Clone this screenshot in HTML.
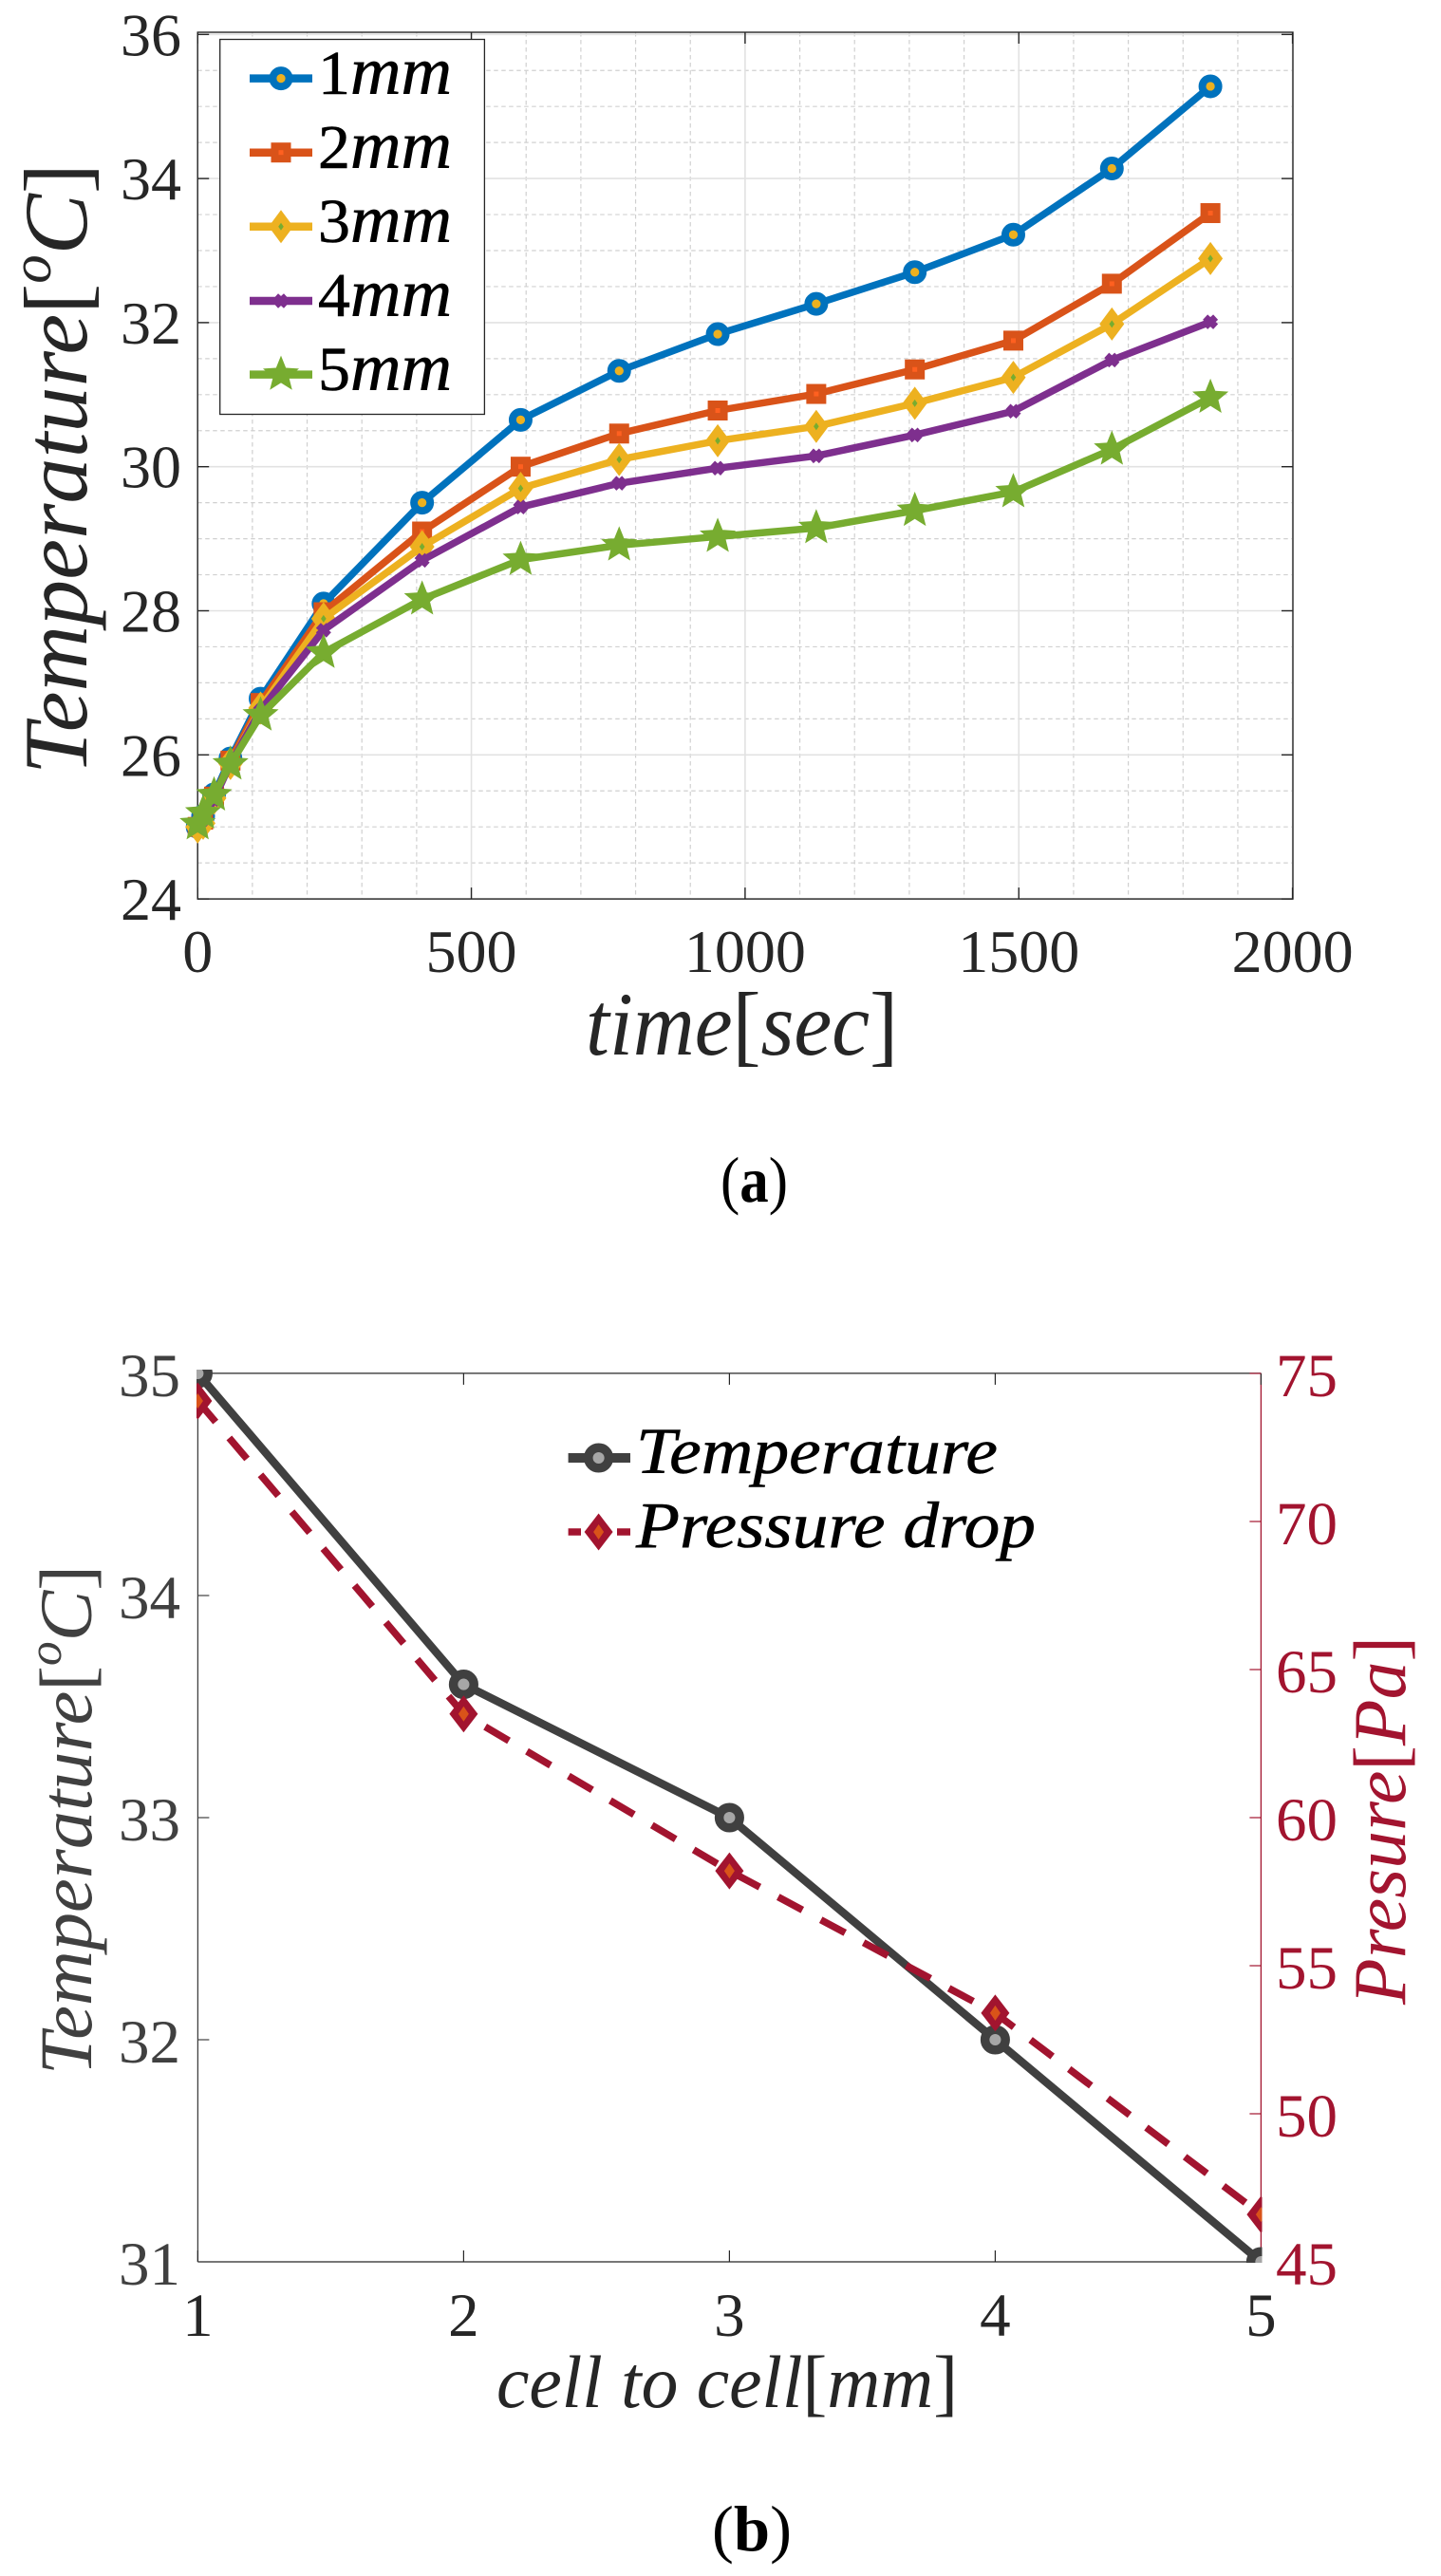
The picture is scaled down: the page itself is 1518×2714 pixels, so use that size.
<!DOCTYPE html>
<html lang="en">
<head>
<meta charset="utf-8">
<title>Temperature and pressure charts</title>
<style>
html,body{margin:0;padding:0;background:#fff;width:1518px;height:2714px;overflow:hidden}
svg{display:block}
text{font-family:"Liberation Serif",serif}
.it{font-style:italic}
</style>
</head>
<body>
<svg id="fig" width="1518" height="2714" viewBox="0 0 1518 2714" xmlns="http://www.w3.org/2000/svg">
  <rect x="0" y="0" width="1518" height="2714" fill="#fff"/>
  <defs>
    <clipPath id="clipB"><rect x="207" y="1443" width="1122.5" height="941"/></clipPath>
  </defs>
  <g id="chartA"></g>
  <g id="chartB"></g>

  <text x="617" y="1111" font-size="95" fill="#262626" textLength="329" lengthAdjust="spacingAndGlyphs"><tspan class="it">time</tspan>[<tspan class="it">sec</tspan>]</text>
  <text transform="translate(91 816) rotate(-90)" font-size="95" fill="#262626" textLength="644" lengthAdjust="spacingAndGlyphs"><tspan class="it">Temperature</tspan>[<tspan class="it" font-size="60" dy="-38">o</tspan><tspan class="it" dy="38">C</tspan>]</text>
  <text x="759" y="1266" font-size="68" fill="#000" textLength="71" lengthAdjust="spacingAndGlyphs">(<tspan font-weight="bold">a</tspan>)</text>

  <text x="523" y="2536" font-size="78" fill="#262626" textLength="486" lengthAdjust="spacingAndGlyphs"><tspan class="it">cell to cell</tspan>[<tspan class="it">mm</tspan>]</text>
  <text transform="translate(96 2186) rotate(-90)" font-size="78" fill="#404040" textLength="537" lengthAdjust="spacingAndGlyphs"><tspan class="it">Temperature</tspan>[<tspan class="it" font-size="50" dy="-32">o</tspan><tspan class="it" dy="32">C</tspan>]</text>
  <text transform="translate(1480 2112) rotate(-90)" font-size="78" fill="#A2142F" textLength="388" lengthAdjust="spacingAndGlyphs"><tspan class="it">Presure</tspan>[<tspan class="it">Pa</tspan>]</text>
  <text x="750" y="2687" font-size="68" fill="#000" textLength="84" lengthAdjust="spacingAndGlyphs">(<tspan font-weight="bold">b</tspan>)</text>
</svg>
<script>
/* ---- chart (a) data ---- */
const timesA = [0,10,30,60,115,230,410,590,770,950,1130,1310,1490,1670,1850];
const temp1mm = [25.0,25.15,25.45,25.95,26.78,28.10,29.50,30.65,31.33,31.84,32.26,32.70,33.22,34.14,35.28];
const temp2mm = [25.0,25.10,25.42,25.92,26.72,27.98,29.10,30.00,30.46,30.78,31.01,31.35,31.75,32.54,33.52];
const temp3mm = [25.0,25.05,25.40,25.88,26.65,27.89,28.89,29.70,30.10,30.36,30.56,30.88,31.24,31.98,32.89];
const temp4mm = [25.05,25.10,25.38,25.88,26.62,27.73,28.70,29.44,29.77,29.98,30.15,30.44,30.77,31.48,32.01];
const temp5mm = [25.04,25.19,25.44,25.87,26.55,27.42,28.16,28.71,28.91,29.03,29.15,29.39,29.65,30.24,30.96];
const xTicksA = [0,500,1000,1500,2000];
const yTicksA = [24,26,28,30,32,34,36];
const xMinorA = [100,200,300,400,600,700,800,900,1100,1200,1300,1400,1600,1700,1800,1900];
const yMinorA = [24.5,25,25.5,26.5,27,27.5,28.5,29,29.5,30.5,31,31.5,32.5,33,33.5,34.5,35,35.5];
const legendDigitsA = ["1","2","3","4","5"];

/* ---- chart (b) data ---- */
const spacingB = [1,2,3,4,5];
const temperatureB = [35,33.6,33,32,31];
const pressureB = [74.07,63.5,58.2,53.4,46.6];
const xTicksB = [1,2,3,4,5];
const yTicksLeftB = [31,32,33,34,35];
const yTicksRightB = [45,50,55,60,65,70,75];

const NS = 'http://www.w3.org/2000/svg';
function mk(parent, tag, attrs, txt){
  const el = document.createElementNS(NS, tag);
  for (const k in attrs) el.setAttribute(k, attrs[k]);
  if (txt !== undefined) el.textContent = txt;
  parent.appendChild(el);
  return el;
}
/* axis functions */
const xA = v => 208.2 + v * 0.5767;
const yA = v => 947.1 - (v - 24) * 75.9;
const xB = v => 208.4 + (v - 1) * 280;
const yBL = v => 2383 - (v - 31) * 234;
const yBR = v => 2383 - (v - 45) * 31.2;

function poly(pts){ return pts.map(p => p[0].toFixed(2) + ',' + p[1].toFixed(2)).join(' '); }
function diamondPts(cx, cy, w, h){ return poly([[cx, cy-h],[cx+w, cy],[cx, cy+h],[cx-w, cy]]); }
function starPts(cx, cy, R, r){
  const pts = [];
  for (let i = 0; i < 10; i++){
    const a = -Math.PI/2 + i*Math.PI/5;
    const q = i % 2 ? r : R;
    pts.push([cx + q*Math.cos(a), cy + q*Math.sin(a)]);
  }
  return poly(pts);
}
function marker(g, kind, cx, cy){
  if (kind === 'circle'){
    mk(g,'circle',{cx:cx,cy:cy,r:8.5,fill:'#EDB120',stroke:'#0072BD','stroke-width':8});
    mk(g,'circle',{cx:cx,cy:cy,r:4.6,fill:'#EDB120'});
  } else if (kind === 'square'){
    mk(g,'rect',{x:cx-10.5,y:cy-10.5,width:21,height:21,fill:'#D95319'});
    mk(g,'rect',{x:cx-2.5,y:cy-2.5,width:5,height:5,fill:'#FF6020'});
  } else if (kind === 'diamond'){
    mk(g,'polygon',{points:diamondPts(cx,cy,13,17.5),fill:'#EDB120'});
    mk(g,'polygon',{points:diamondPts(cx,cy,2.8,4),fill:'#77AC30'});
  } else if (kind === 'x'){
    mk(g,'path',{d:`M${cx-5.5} ${cy-5}L${cx+5.5} ${cy+5}M${cx+5.5} ${cy-5}L${cx-5.5} ${cy+5}`,stroke:'#7E2F8E','stroke-width':7.5,fill:'none'});
  } else if (kind === 'star'){
    mk(g,'polygon',{points:starPts(cx,cy,20,8.8),fill:'#77AC30'});
  } else if (kind === 'tempCircle'){
    mk(g,'circle',{cx:cx,cy:cy,r:10.8,fill:'#A6A6A6',stroke:'#404040','stroke-width':9.5});
  } else if (kind === 'pressDiamond'){
    mk(g,'polygon',{points:diamondPts(cx,cy,15,19.5),fill:'#A2142F'});
    mk(g,'polygon',{points:diamondPts(cx,cy,5.5,8),fill:'#D95319'});
  }
}

/* ===== chart (a) ===== */
const A = document.getElementById('chartA');
const L = 208.2, R = 1362, T = 34, B = 947.1;

const gridA = mk(A,'g',{});


xMinorA.forEach(v => {
  const l = mk(gridA,'line',{x1:xA(v),x2:xA(v),y1:T,y2:B,stroke:'#d0d0d0','stroke-width':1.2,'stroke-dasharray':'4.5 3.5'});
  
  
});
yMinorA.forEach(v => {
  const l = mk(gridA,'line',{x1:L,x2:R,y1:yA(v),y2:yA(v),stroke:'#d0d0d0','stroke-width':1.2,'stroke-dasharray':'4.5 3.5'});
  
  
});
xTicksA.forEach(v => {
  const l = mk(gridA,'line',{x1:xA(v),x2:xA(v),y1:T,y2:B,stroke:'#e2e2e2','stroke-width':1.6});
  
  
});
yTicksA.forEach(v => {
  const l = mk(gridA,'line',{x1:L,x2:R,y1:yA(v),y2:yA(v),stroke:'#e2e2e2','stroke-width':1.6});
  
  
});

const axesA = mk(A,'g',{});


const boxA = mk(axesA,'rect',{x:L,y:T,width:R-L,height:B-T,fill:'none',stroke:'#262626','stroke-width':1.4});


xTicksA.forEach(v => {
  const t1 = mk(axesA,'line',{x1:xA(v),x2:xA(v),y1:B,y2:B-12,stroke:'#262626','stroke-width':1.4});
  
  
  const t2 = mk(axesA,'line',{x1:xA(v),x2:xA(v),y1:T,y2:T+12,stroke:'#262626','stroke-width':1.4});
  
  
  const lb = mk(axesA,'text',{x:xA(v),y:1024,'font-size':64,fill:'#262626','text-anchor':'middle'},String(v));
  
  
});
yTicksA.forEach(v => {
  const t1 = mk(axesA,'line',{x1:L,x2:L+12,y1:yA(v),y2:yA(v),stroke:'#262626','stroke-width':1.4});
  
  
  const t2 = mk(axesA,'line',{x1:R,x2:R-12,y1:yA(v),y2:yA(v),stroke:'#262626','stroke-width':1.4});
  
  
  const lb = mk(axesA,'text',{x:191,y:yA(v)+22,'font-size':64,fill:'#262626','text-anchor':'end'},String(v));
  
  
});

const seriesNames = ['1mm','2mm','3mm','4mm','5mm'];
const seriesValues = [temp1mm,temp2mm,temp3mm,temp4mm,temp5mm];
const seriesColors = ['#0072BD','#D95319','#EDB120','#7E2F8E','#77AC30'];
const seriesMarkers = ['circle','square','diamond','x','star'];

seriesValues.forEach((vals,i) => {
  const g = mk(A,'g',{});
  
  
  const line = mk(g,'polyline',{points:poly(vals.map((v,j)=>[xA(timesA[j]),yA(v)])),fill:'none',stroke:seriesColors[i],'stroke-width':7.5,'stroke-linejoin':'round'});
  
  
  vals.forEach((v,j) => {
    const m = mk(g,'g',{});
    
    
    marker(m,seriesMarkers[i],xA(timesA[j]),yA(v));
  });
});

const legA = mk(A,'g',{});


const legBox = mk(legA,'rect',{x:231.7,y:41.5,width:278.7,height:395,fill:'#fff',stroke:'#262626','stroke-width':1.3});


const legLineY = [82.6,160.7,238.8,317,394.6];
legendDigitsA.forEach((d,i) => {
  const e = mk(legA,'g',{});
  
  
  mk(e,'line',{x1:263,x2:329,y1:legLineY[i],y2:legLineY[i],stroke:seriesColors[i],'stroke-width':8.5});
  marker(e,seriesMarkers[i],296,legLineY[i]);
  const tx = mk(e,'text',{x:335,y:legLineY[i]+16.2,'font-size':66,fill:'#000',stroke:'#000','stroke-width':0.6,textLength:141,lengthAdjust:'spacingAndGlyphs'});
  mk(tx,'tspan',{},d);
  mk(tx,'tspan',{class:'it','font-size':72},'mm');
});

/* ===== chart (b) ===== */
const Bc = document.getElementById('chartB');
const LB = 208.4, RB = 1328.4, TB = 1446.9, BB = 2383;

const axL = mk(Bc,'g',{});


const axBottom = mk(axL,'line',{x1:LB,x2:RB,y1:BB,y2:BB,stroke:'#262626','stroke-width':1.3});


const axTop = mk(axL,'line',{x1:LB,x2:RB,y1:TB,y2:TB,stroke:'#262626','stroke-width':1.3});


const axLeft = mk(axL,'line',{x1:LB,x2:LB,y1:TB,y2:BB,stroke:'#404040','stroke-width':1.3});


const axRight = mk(axL,'line',{x1:RB,x2:RB,y1:TB,y2:BB,stroke:'#A2142F','stroke-width':1.3});



xTicksB.forEach(v => {
  const t1 = mk(axL,'line',{x1:xB(v),x2:xB(v),y1:BB,y2:BB-12,stroke:'#262626','stroke-width':1.2});
  
  
  const t2 = mk(axL,'line',{x1:xB(v),x2:xB(v),y1:TB,y2:TB+12,stroke:'#262626','stroke-width':1.2});
  
  
  const lb = mk(axL,'text',{x:xB(v),y:2461,'font-size':65,fill:'#262626','text-anchor':'middle'},String(v));
  
  
});
yTicksLeftB.forEach(v => {
  const t = mk(axL,'line',{x1:LB,x2:LB+12,y1:yBL(v),y2:yBL(v),stroke:'#404040','stroke-width':1.2});
  
  
  const lb = mk(axL,'text',{x:190,y:yBL(v)+24,'font-size':65,fill:'#404040','text-anchor':'end'},String(v));
  
  
});
yTicksRightB.forEach(v => {
  const t = mk(axL,'line',{x1:RB,x2:RB-12,y1:yBR(v),y2:yBR(v),stroke:'#A2142F','stroke-width':1.2});
  
  
  const lb = mk(axL,'text',{x:1344,y:yBR(v)+24,'font-size':65,fill:'#A2142F'},String(v));
  
  
});

const plotB = mk(Bc,'g',{'clip-path':'url(#clipB)'});



const tempLine = mk(plotB,'polyline',{points:poly(temperatureB.map((v,j)=>[xB(spacingB[j]),yBL(v)])),fill:'none',stroke:'#404040','stroke-width':8.5,'stroke-linejoin':'round'});


temperatureB.forEach((v,j) => {
  const m = mk(plotB,'g',{});
  
  
  marker(m,'tempCircle',xB(spacingB[j]),yBL(v));
});
const pressLine = mk(plotB,'polyline',{points:poly(pressureB.map((v,j)=>[xB(spacingB[j]),yBR(v)])),fill:'none',stroke:'#A2142F','stroke-width':7.5,'stroke-dasharray':'29 22'});


pressureB.forEach((v,j) => {
  const m = mk(plotB,'g',{});
  
  
  marker(m,'pressDiamond',xB(spacingB[j]),yBR(v));
});

const legB = mk(Bc,'g',{});


const e1 = mk(legB,'g',{});


mk(e1,'line',{x1:598.6,x2:664,y1:1536,y2:1536,stroke:'#404040','stroke-width':10});
marker(e1,'tempCircle',630.6,1536);
const e1t = mk(e1,'text',{x:670,y:1552,'font-size':69,fill:'#000',stroke:'#000','stroke-width':0.6,class:'it',textLength:381,lengthAdjust:'spacingAndGlyphs'},'Temperature');


const e2 = mk(legB,'g',{});


mk(e2,'line',{x1:598.6,x2:612,y1:1614,y2:1614,stroke:'#A2142F','stroke-width':7.5});
mk(e2,'line',{x1:650,x2:664,y1:1614,y2:1614,stroke:'#A2142F','stroke-width':7.5});
marker(e2,'pressDiamond',630.6,1614);
const e2t = mk(e2,'text',{x:670,y:1630,'font-size':69,fill:'#000',stroke:'#000','stroke-width':0.6,class:'it',textLength:421,lengthAdjust:'spacingAndGlyphs'},'Pressure drop');


</script>
</body>
</html>
